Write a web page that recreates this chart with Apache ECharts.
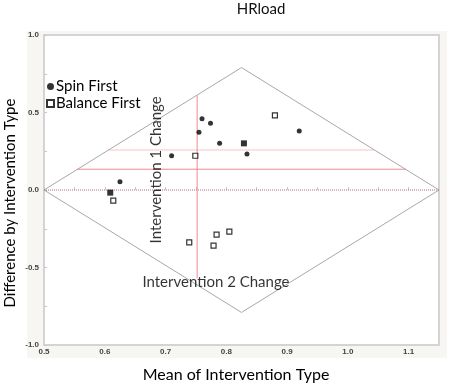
<!DOCTYPE html>
<html>
<head>
<meta charset="utf-8">
<script src="https://cdn.jsdelivr.net/npm/echarts@6/dist/echarts.min.js"></script>
<style>
  html, body {margin: 0; padding: 0; background: #fff;}
  #chart {width: 454px; height: 384px;}
</style>
</head>
<body>
<div id="chart"></div>
<script>
// points: [mean, difference]
var spinFirst = [[0.760, 0.460], [0.774, 0.430], [0.755, 0.372], [0.789, 0.301], [0.920, 0.380],
                 [0.834, 0.232], [0.710, 0.221], [0.625, 0.054]];
var balanceFirst = [[0.880, 0.482], [0.749, 0.221], [0.614, -0.069], [0.739, -0.338],
                    [0.779, -0.359], [0.784, -0.288], [0.805, -0.269]];
var groupMeans = [[0.829, 0.301], [0.609, -0.017]];

// reference shapes
var diamond = [[0.5, 0], [0.825, 0.79], [1.15, 0], [0.825, -0.79], [0.5, 0]];
var zeroLine = [[0.5, 0], [1.15, 0]];
var solidRef = [[0.555, 0.134], [1.095, 0.134]];
var dottedRef = [[0.606, 0.258], [1.044, 0.258]];
var vertRef = [[0.752, -0.57], [0.752, 0.61]];

var annotations = [
    {value: [0.684, 0.13], text: "Intervention 1 Change", rotate: 90},
    {value: [0.783, -0.592], text: "Intervention 2 Change", rotate: 0}
];

var font = "Lato";
var chart = echarts.init(document.getElementById("chart"));

function refLine(data, color, type) {
    return {
        type: "line", data: data, symbol: "none", silent: true,
        lineStyle: {color: color, width: 1, type: type}, z: 2
    };
}

var option = {
    animation: false,
    graphic: [
        {type: "rect", shape: {x: 27, y: 31, width: 420, height: 327}, style: {fill: "#f7f6f3"}, z: -10},
        {type: "text", x: 261, y: 9,
         style: {text: "HRload", fill: "#111", font: "15px " + font, align: "center", verticalAlign: "middle"}},
        {type: "text", x: 10, y: 203, rotation: Math.PI / 2,
         style: {text: "Difference by Intervention Type", fill: "#000", font: "15px " + font, align: "center", verticalAlign: "middle"}},
        {type: "text", x: 236, y: 375,
         style: {text: "Mean of Intervention Type", fill: "#000", font: "16px " + font, align: "center", verticalAlign: "middle"}}
    ],
    legend: {
        orient: "vertical", left: 46, top: 79, padding: 0, itemGap: 2,
        itemWidth: 7, itemHeight: 7,
        data: ["Spin First", "Balance First"],
        textStyle: {fontFamily: font, fontSize: 15, color: "#000", padding: [0, 0, 0, -3]}
    },
    grid: {left: 44, right: 15, top: 35, bottom: 39, show: true, backgroundColor: "#fff",
           borderColor: "#d4d4d4", borderWidth: 2},
    xAxis: {
        type: "value", min: 0.5, max: 1.15, interval: 0.05,
        axisLine: {show: false},
        axisTick: {show: true, inside: true, length: 3, lineStyle: {color: "#c8c8c8"}},
        splitLine: {show: false},
        axisLabel: {
            margin: 3, fontFamily: "Liberation Sans", fontSize: 8, fontWeight: "bold", color: "#444",
            showMaxLabel: false,
            formatter: function (v) {
                var r = Math.round(v * 100);
                return r % 10 === 0 ? (r / 100).toFixed(1) : "";
            }
        }
    },
    yAxis: {
        type: "value", min: -1, max: 1, interval: 0.25,
        axisLine: {show: false},
        axisTick: {show: true, inside: true, length: 3, lineStyle: {color: "#c8c8c8"}},
        splitLine: {show: false},
        axisLabel: {
            margin: 5, fontFamily: "Liberation Sans", fontSize: 8, fontWeight: "bold", color: "#444",
            formatter: function (v) {
                var r = Math.round(v * 100);
                return r % 50 === 0 ? (r / 100).toFixed(1) : "";
            }
        }
    },
    series: [
        refLine(diamond, "#a8a8a8", "solid"),
        refLine(zeroLine, "#a87478", [1, 1]),
        refLine(solidRef, "#f28890", "solid"),
        refLine(dottedRef, "#f08890", [1, 1]),
        refLine(vertRef, "#f28890", "solid"),
        {
            name: "Spin First", type: "scatter", data: spinFirst,
            symbol: "circle", symbolSize: 5, itemStyle: {color: "#000"}, z: 5
        },
        {
            name: "Balance First", type: "scatter", data: balanceFirst,
            symbol: "rect", symbolSize: 5,
            itemStyle: {color: "#fff", borderColor: "#000", borderWidth: 1.2}, z: 5
        },
        {
            name: "Means", type: "scatter", data: groupMeans,
            symbol: "rect", symbolSize: 6, itemStyle: {color: "#000"}, z: 5
        },
        {
            type: "scatter", silent: true, symbolSize: 0, z: 6,
            data: annotations.map(function (a) {
                return {
                    value: a.value,
                    label: {show: true, position: "inside", formatter: a.text, rotate: a.rotate,
                            fontFamily: font, fontSize: 15, color: "#000"}
                };
            })
        }
    ]
};

chart.setOption(option);
</script>
</body>
</html>
